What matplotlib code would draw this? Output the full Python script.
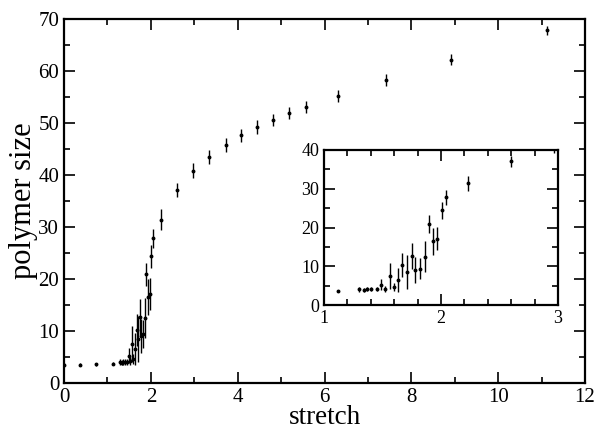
import numpy as np
import matplotlib.pyplot as plt
from matplotlib.ticker import MultipleLocator

plt.rcParams["font.family"] = ["Liberation Serif", "DejaVu Serif"]

# ── Data ──────────────────────────────────────────────────────────────
stretch = [0.0, 0.38, 0.74, 1.12, 1.30, 1.34, 1.37, 1.40, 1.45, 1.49, 1.52,
           1.56, 1.60, 1.635, 1.67, 1.71, 1.75, 1.78, 1.82, 1.86, 1.90,
           1.93, 1.97, 2.01, 2.04, 2.23, 2.60, 2.97, 3.35, 3.72, 4.08,
           4.45, 4.82, 5.19, 5.57, 6.31, 7.42, 8.91, 11.12]
size = [3.5, 3.5, 3.6, 3.7, 4.05, 3.9, 4.1, 4.05, 4.05, 5.25, 4.2,
        7.5, 4.6, 6.5, 10.2, 8.5, 12.7, 9.0, 9.4, 12.5, 20.9,
        16.5, 17.1, 24.4, 27.8, 31.4, 37.1, 40.8, 43.5, 45.8, 47.6,
        49.2, 50.6, 51.9, 53.1, 55.2, 58.3, 62.2, 67.8]
err = [0.3, 0.3, 0.3, 0.3, 0.6, 0.5, 0.6, 0.5, 0.5, 1.4, 0.8,
       3.4, 1.0, 3.1, 3.1, 4.4, 3.4, 3.3, 2.7, 3.9, 2.2,
       3.5, 3.0, 2.2, 1.9, 2.0, 1.4, 1.45, 1.3, 1.3, 1.3,
       1.3, 1.2, 1.2, 1.2, 1.1, 1.15, 1.1, 0.8]


def style_axes(ax, fs):
    ax.tick_params(which="both", direction="in", top=True, right=True,
                   labelsize=fs, width=1.2)
    ax.tick_params(which="major", length=8)
    ax.tick_params(which="minor", length=4)
    for s in ax.spines.values():
        s.set_linewidth(1.6)


def draw(ax):
    ax.errorbar(stretch, size, yerr=err, fmt="o", color="black", ms=1.8,
                elinewidth=1.0, capsize=0, clip_on=True)


# ── Figure ─────────────────────────────────────────────────────────────
fig = plt.figure(figsize=(5.95, 4.30), dpi=100)
W, H = 595, 430

ax = fig.add_axes([64 / W, 1 - 383 / H, (585 - 64) / W, (383 - 19) / H])
draw(ax)
ax.set_xlim(0, 12)
ax.set_ylim(0, 70)
ax.xaxis.set_major_locator(MultipleLocator(2))
ax.xaxis.set_minor_locator(MultipleLocator(1))
ax.yaxis.set_major_locator(MultipleLocator(10))
ax.yaxis.set_minor_locator(MultipleLocator(5))
style_axes(ax, 15)
ax.set_xlabel("stretch", fontsize=19.5, labelpad=-1)
ax.set_ylabel("polymer size", fontsize=22, labelpad=0)

ins = fig.add_axes([324 / W, 1 - 305 / H, (558 - 324) / W, (305 - 150) / H])
draw(ins)
ins.set_xlim(1, 3)
ins.set_ylim(0, 40)
ins.xaxis.set_major_locator(MultipleLocator(1))
ins.xaxis.set_minor_locator(MultipleLocator(0.2))
ins.yaxis.set_major_locator(MultipleLocator(10))
ins.yaxis.set_minor_locator(MultipleLocator(5))
style_axes(ins, 13)

fig.savefig("out.png", dpi=100)
